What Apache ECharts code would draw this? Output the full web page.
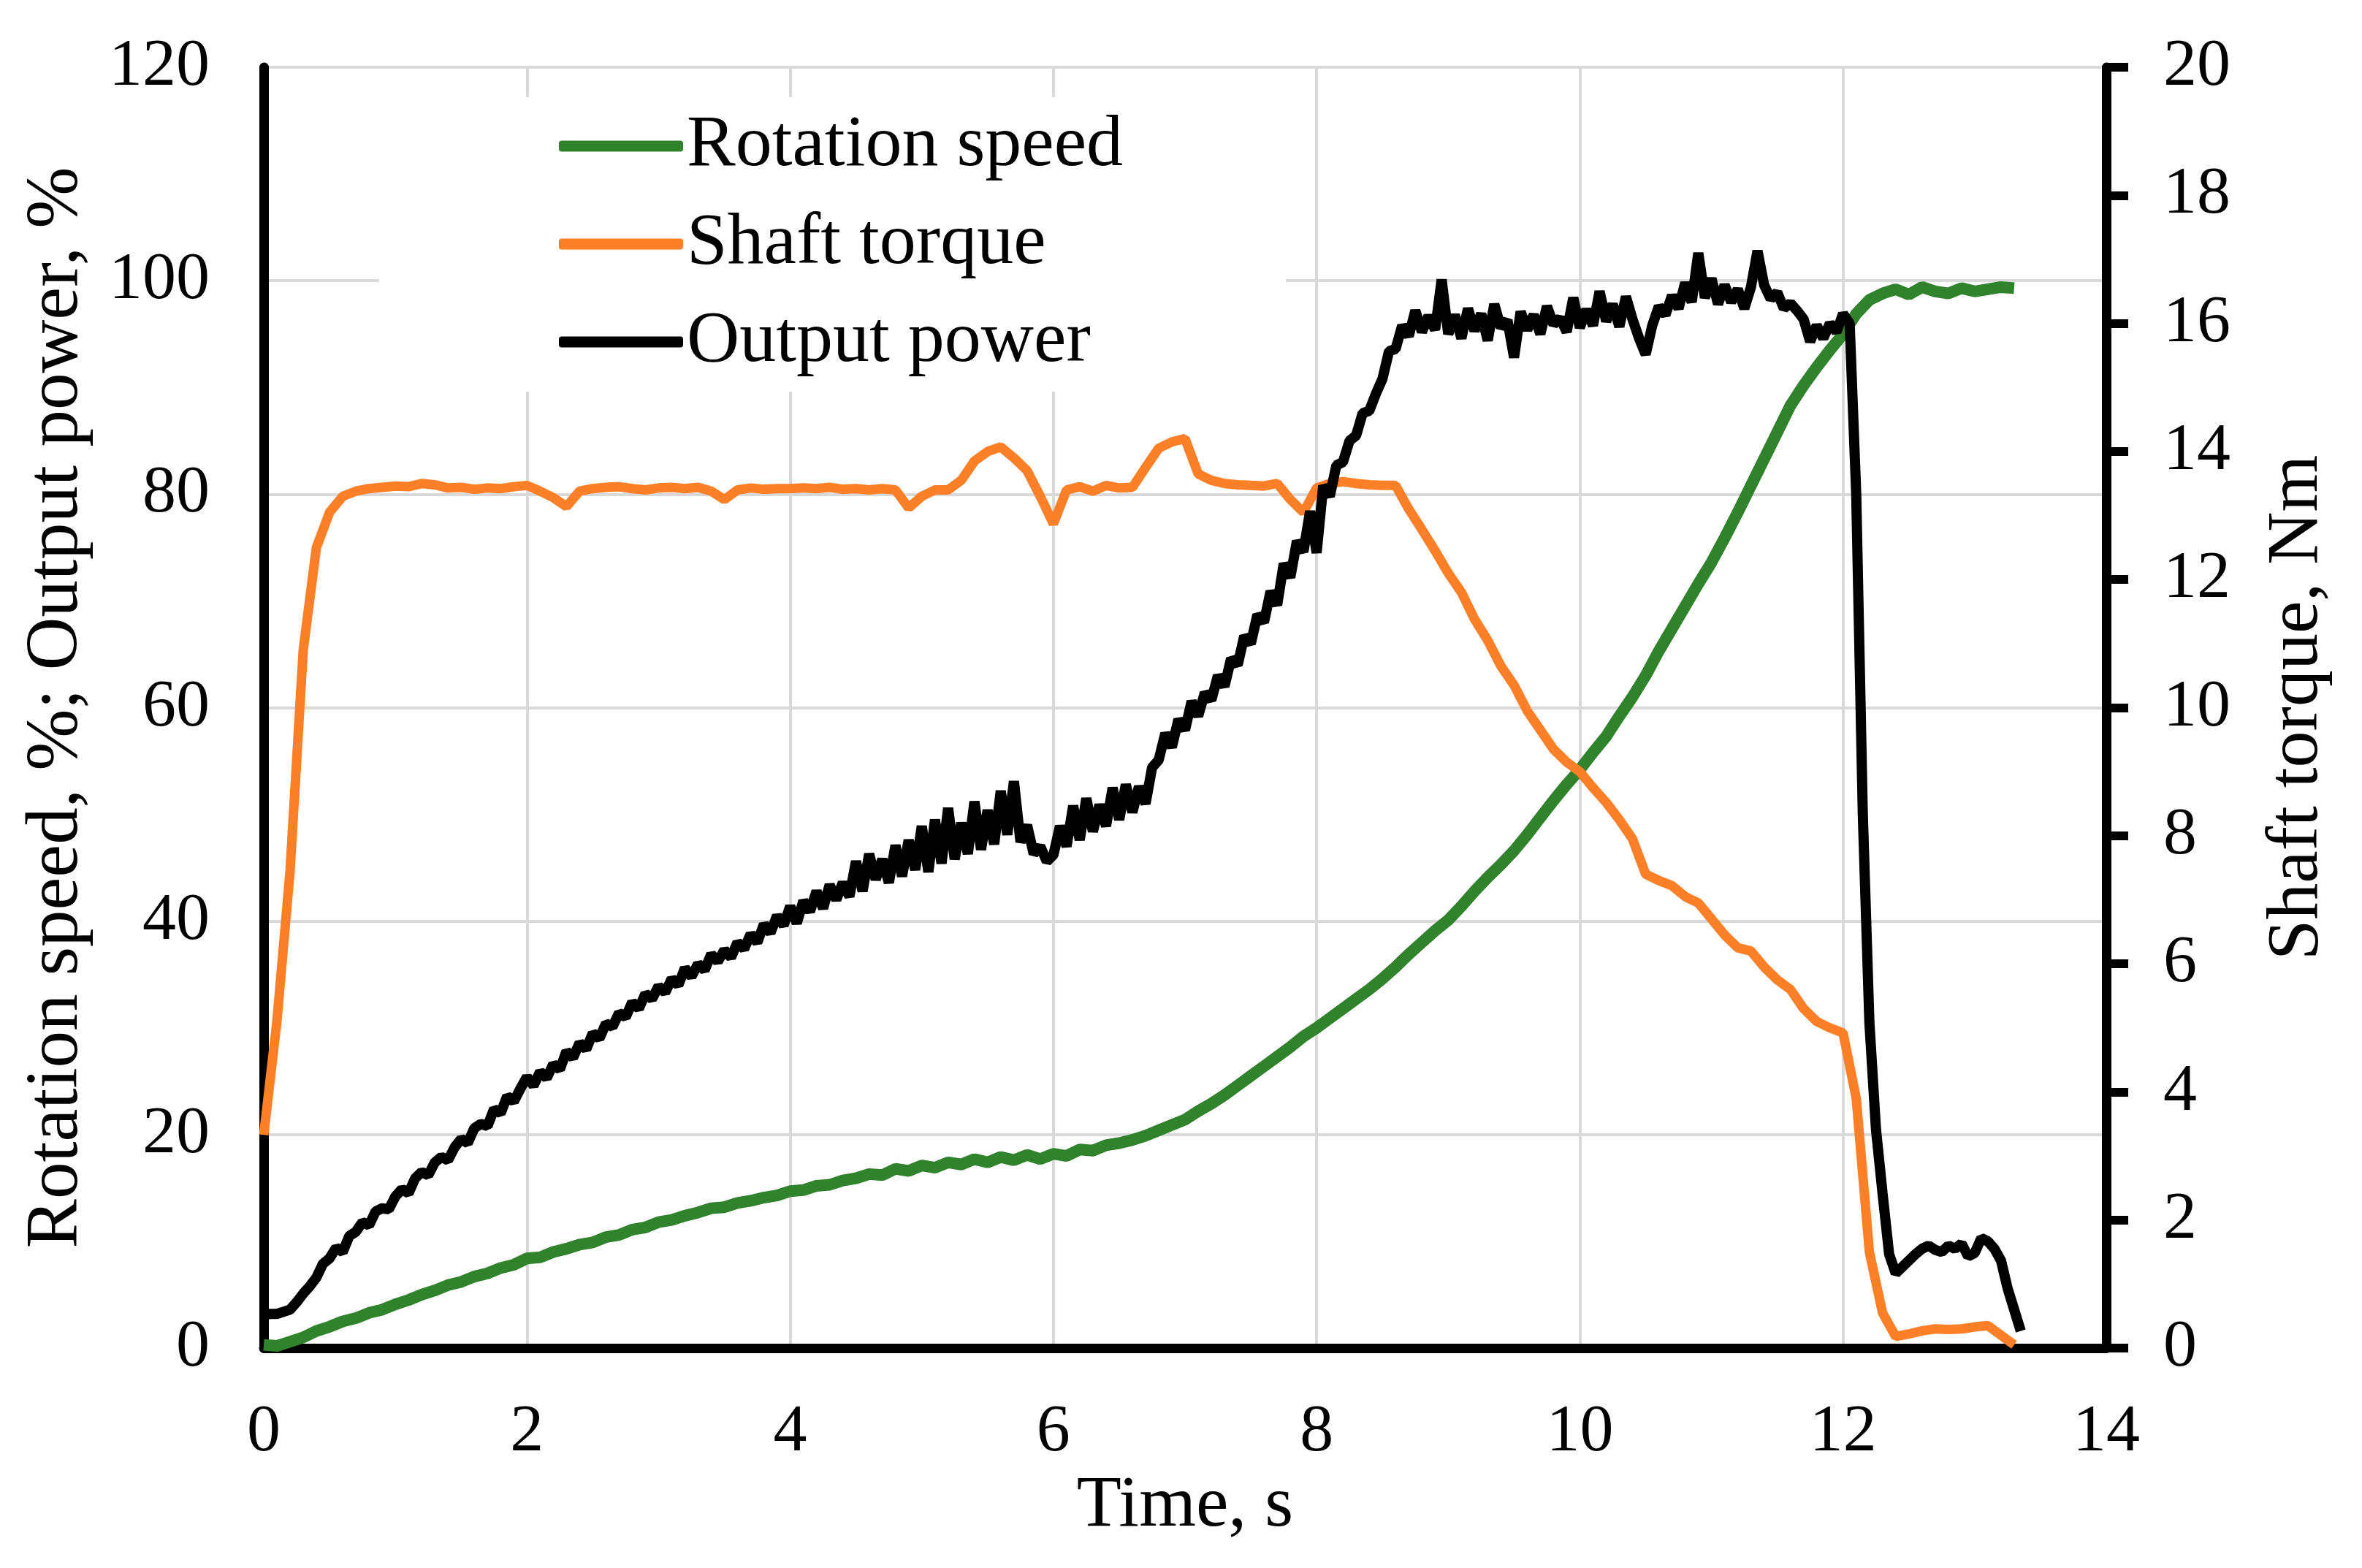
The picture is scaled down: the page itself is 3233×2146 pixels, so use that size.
<!DOCTYPE html>
<html>
<head>
<meta charset="utf-8">
<title>Rotation speed, shaft torque and output power</title>
<script src="https://cdn.jsdelivr.net/npm/echarts@6/dist/echarts.min.js"></script>
<style>
html, body { margin: 0; padding: 0; background: #fff; }
#chart { width: 3233px; height: 2146px; }
</style>
</head>
<body>
<div id="chart"></div>
<script>
// sampled every 0.1 s
var rotationSpeed = [0.3, 0.2, 0.6, 1.0, 1.6, 2.0, 2.5, 2.8, 3.3, 3.6,
	4.1, 4.5, 5.0, 5.4, 5.9, 6.2, 6.7, 7.0, 7.5, 7.8,
	8.4, 8.5, 9.0, 9.3, 9.7, 9.9, 10.4, 10.6, 11.1, 11.3,
	11.8, 12.0, 12.4, 12.7, 13.1, 13.2, 13.6, 13.8, 14.1, 14.3,
	14.7, 14.8, 15.2, 15.3, 15.7, 15.9, 16.3, 16.2, 16.8, 16.6,
	17.1, 16.9, 17.4, 17.2, 17.7, 17.4, 17.9, 17.6, 18.1, 17.7,
	18.2, 18.0, 18.6, 18.5, 19.0, 19.2, 19.5, 19.9, 20.4, 20.9,
	21.4, 22.2, 22.9, 23.7, 24.6, 25.5, 26.4, 27.3, 28.2, 29.2,
	30.0, 30.9, 31.8, 32.7, 33.6, 34.6, 35.7, 36.9, 38.0, 39.1,
	40.1, 41.4, 42.8, 44.1, 45.3, 46.6, 48.1, 49.7, 51.3, 52.8,
	54.2, 55.8, 57.3, 59.2, 61.0, 63.0, 65.3, 67.4, 69.5, 71.6,
	73.6, 75.9, 78.3, 80.8, 83.3, 85.8, 88.3, 90.2, 91.9, 93.5,
	95.0, 96.9, 98.2, 98.8, 99.2, 98.7, 99.4, 99.0, 98.8, 99.3,
	99.0, 99.2, 99.4, 99.3];

// Nm, sampled every 0.1 s
var shaftTorque = [3.33, 5.1, 7.45, 10.9, 12.5, 13.05, 13.3, 13.38, 13.42, 13.44,
	13.46, 13.45, 13.5, 13.48, 13.43, 13.44, 13.41, 13.43, 13.42, 13.45,
	13.47, 13.38, 13.28, 13.14, 13.38, 13.42, 13.44, 13.45, 13.42, 13.4,
	13.43, 13.44, 13.42, 13.44, 13.38, 13.25, 13.4, 13.43, 13.41, 13.42,
	13.42, 13.43, 13.42, 13.44, 13.41, 13.42, 13.4, 13.42, 13.4, 13.12,
	13.3, 13.4, 13.4, 13.55, 13.85, 14.0, 14.07, 13.9, 13.7, 13.3,
	12.87, 13.4, 13.45, 13.38, 13.47, 13.43, 13.44, 13.75, 14.05, 14.15,
	14.2, 13.65, 13.55, 13.5, 13.48, 13.47, 13.46, 13.5, 13.25, 13.05,
	13.43, 13.5, 13.53, 13.5, 13.48, 13.47, 13.47, 13.1, 12.78, 12.45,
	12.1, 11.8, 11.38, 11.05, 10.65, 10.35, 9.95, 9.65, 9.35, 9.15,
	9.0, 8.75, 8.52, 8.25, 7.95, 7.4, 7.3, 7.22, 7.05, 6.95,
	6.7, 6.45, 6.25, 6.2, 5.95, 5.75, 5.6, 5.3, 5.1, 5.0,
	4.92, 3.9, 1.5, 0.55, 0.18, 0.22, 0.27, 0.3, 0.29, 0.3,
	0.33, 0.35, 0.2, 0.05];

// sampled every 0.05 s, one row per second
var outputPower = [
	3.1, 3.2, 3.2, 3.4, 3.6, 4.3, 5.1, 5.8, 6.6, 7.9, 8.4, 9.4, 9.0, 10.5, 10.9, 11.8, 11.5, 12.8, 13.1, 13.0,
	14.2, 14.9, 14.5, 15.9, 16.5, 16.2, 17.4, 17.9, 17.6, 18.8, 19.6, 19.2, 20.6, 21.0, 20.8, 22.4, 22.0, 23.6, 23.1, 24.3,
	25.4, 24.6, 25.9, 25.3, 26.6, 26.1, 27.8, 27.2, 28.6, 28.0, 29.5, 29.0, 30.4, 30.1, 31.4, 31.0, 32.4, 31.8, 33.2, 32.7,
	33.9, 33.3, 34.6, 34.0, 35.6, 34.8, 36.0, 35.4, 36.9, 36.2, 37.3, 36.6, 38.0, 37.4, 38.8, 38.0, 39.7, 38.9, 40.5, 39.6,
	41.4, 39.8, 41.9, 40.9, 42.8, 41.2, 43.4, 42.0, 43.6, 42.3, 45.6, 42.8, 46.3, 43.9, 45.8, 43.6, 47.1, 44.2, 47.6, 44.8,
	48.9, 44.6, 49.5, 45.4, 50.6, 45.8, 49.2, 46.3, 51.2, 46.7, 50.4, 47.2, 52.2, 48.1, 53.1, 47.4, 49.0, 46.3, 47.0, 45.6,
	46.2, 48.9, 47.0, 50.8, 47.6, 51.5, 48.4, 50.9, 48.9, 52.5, 49.5, 52.8, 50.2, 52.6, 51.0, 54.4, 55.1, 57.6, 56.3, 58.9,
	57.9, 60.6, 59.2, 61.4, 60.7, 63.0, 62.0, 64.6, 64.0, 66.7, 66.0, 68.7, 68.0, 70.9, 69.6, 73.5, 72.2, 75.6, 74.6, 78.4,
	74.5, 80.8, 79.8, 82.7, 83.0, 85.0, 85.5, 87.6, 87.8, 89.4, 90.8, 93.4, 93.6, 95.8, 94.8, 97.2, 95.2, 96.7, 95.4, 100.1,
	95.0, 96.8, 94.6, 97.4, 95.3, 96.9, 94.4, 97.8, 95.6, 96.3, 92.8, 97.1, 95.4, 96.8, 95.0, 97.6, 95.9, 96.5, 95.2, 98.4,
	95.6, 97.3, 95.8, 99.0, 96.2, 97.8, 95.7, 98.5, 96.4, 94.6, 93.1, 95.8, 97.6, 96.8, 98.6, 97.4, 99.8, 98.0, 102.6, 98.4,
	100.2, 97.8, 99.6, 98.0, 99.2, 97.4, 99.4, 102.8, 99.6, 98.3, 98.9, 97.4, 97.9, 97.2, 96.4, 94.3, 95.8, 94.6, 96.0, 95.2,
	96.9, 96.0, 80.0, 50.0, 30.5, 20.5, 14.5, 8.8, 7.0, 7.6, 8.2, 8.8, 9.3, 9.6, 9.2, 9.0, 9.6, 9.3, 9.8, 8.6,
	8.9, 10.3, 10.0, 9.3, 8.2, 5.6, 3.6, 1.6];

var seriesNames = ['Rotation speed', 'Shaft torque', 'Output power'];
var seriesColors = ['#31822c', '#fd7f27', '#000000'];

var FONT = 'Liberation Serif';

function toPairs(values, step) {
	return values.map(function(v, i) {
		return [Math.round(i * step * 100) / 100, v];
	});
}

function initOption() {
	var option = {
		backgroundColor: '#fff',
		animation: false,
		textStyle: { fontFamily: FONT, color: '#000' },
		grid: { left: 361, right: 350, top: 92, bottom: 301, containLabel: false },
		legend: {
			orient: 'vertical',
			left: 519,
			top: 133,
			padding: [17, 223, 18, 246],
			backgroundColor: '#fff',
			itemWidth: 170,
			itemHeight: 15,
			itemGap: 34,
			icon: 'roundRect',
			textStyle: { fontFamily: FONT, fontSize: 100, lineHeight: 100, color: '#000' },
			data: seriesNames
		},
		xAxis: {
			type: 'value',
			min: 0,
			max: 14,
			interval: 2,
			name: 'Time, s',
			nameLocation: 'middle',
			nameGap: 164,
			nameTextStyle: { fontFamily: FONT, fontSize: 100, color: '#000' },
			axisLine: { onZero: false, lineStyle: { color: '#000', width: 13 } },
			axisTick: { show: false },
			axisLabel: { margin: 70, fontFamily: FONT, fontSize: 92, color: '#000' },
			splitLine: { show: true, lineStyle: { color: '#d9d9d9', width: 4 } }
		},
		yAxis: [{
			type: 'value',
			position: 'left',
			min: 0,
			max: 120,
			interval: 20,
			name: 'Rotation speed, %; Output power, %',
			nameLocation: 'middle',
			nameRotate: 90,
			nameGap: 232,
			nameTextStyle: { fontFamily: FONT, fontSize: 101, color: '#000' },
			axisLine: { show: true, onZero: false, lineStyle: { color: '#000', width: 13 } },
			axisTick: { show: false },
			axisLabel: { margin: 74, fontFamily: FONT, fontSize: 92, color: '#000' },
			splitLine: { show: true, lineStyle: { color: '#d9d9d9', width: 4 } }
		}, {
			type: 'value',
			position: 'right',
			min: 0,
			max: 20,
			interval: 2,
			name: 'Shaft torque, Nm',
			nameLocation: 'middle',
			nameRotate: 90,
			nameGap: 212,
			nameTextStyle: { fontFamily: FONT, fontSize: 100, color: '#000' },
			axisLine: { show: true, onZero: false, lineStyle: { color: '#000', width: 13 } },
			axisTick: { show: true, inside: false, length: 30, lineStyle: { color: '#000', width: 12 } },
			axisLabel: { margin: 78, fontFamily: FONT, fontSize: 92, color: '#000' },
			splitLine: { show: false }
		}],
		series: [{
			name: seriesNames[0],
			type: 'line',
			yAxisIndex: 0,
			showSymbol: false,
			color: seriesColors[0],
			lineStyle: { width: 16, color: seriesColors[0] },
			data: toPairs(rotationSpeed, 0.1)
		}, {
			name: seriesNames[1],
			type: 'line',
			yAxisIndex: 1,
			showSymbol: false,
			color: seriesColors[1],
			lineStyle: { width: 13, color: seriesColors[1] },
			data: toPairs(shaftTorque, 0.1)
		}, {
			name: seriesNames[2],
			type: 'line',
			yAxisIndex: 0,
			showSymbol: false,
			color: seriesColors[2],
			lineStyle: { width: 14, color: seriesColors[2] },
			data: toPairs(outputPower, 0.05)
		}]
	};
	return option;
}

var myChart = echarts.init(document.getElementById('chart'));
myChart.setOption(initOption());
</script>
</body>
</html>
